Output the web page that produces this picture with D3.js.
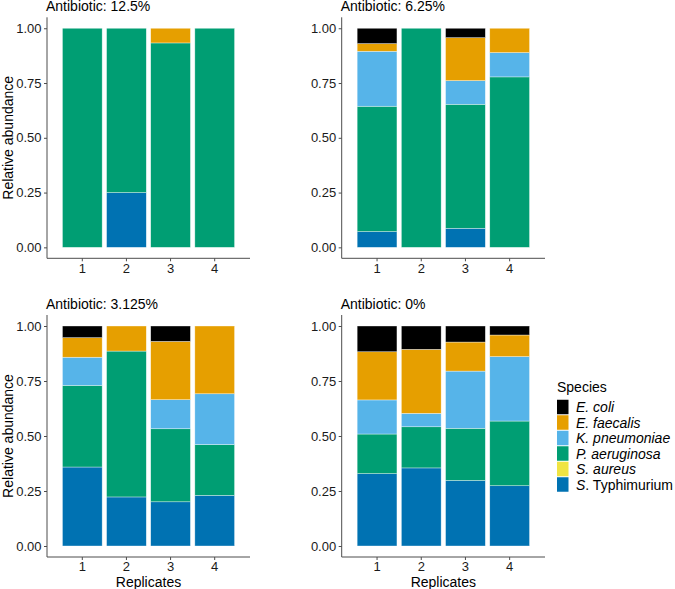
<!DOCTYPE html>
<html><head><meta charset="utf-8">
<script src="https://cdn.jsdelivr.net/npm/d3@7"></script>
<style>body{margin:0;background:#fff}svg{display:block}text{font-family:"Liberation Sans",Arial,sans-serif}</style>
</head><body>
<svg id="c" width="675" height="589"></svg>
<script>
const panels = ["Antibiotic: 12.5%", "Antibiotic: 6.25%", "Antibiotic: 3.125%", "Antibiotic: 0%"];
const replicates = ["1", "2", "3", "4"];
const species = ["E. coli", "E. faecalis", "K. pneumoniae", "P. aeruginosa", "S. aureus", "S. Typhimurium"];
const colors = ["#000000", "#E69F00", "#56B4E9", "#009E73", "#F0E442", "#0072B2"];
const yTicks = [0, 0.25, 0.5, 0.75, 1];
const yTickLabels = ["0.00", "0.25", "0.50", "0.75", "1.00"];
// values per panel, per replicate, in species order
const ab12_5 = [
  [0, 0, 0, 1.0, 0, 0],
  [0, 0, 0, 0.75, 0, 0.25],
  [0, 0.067, 0, 0.933, 0, 0],
  [0, 0, 0, 1.0, 0, 0]
];
const ab6_25 = [
  [0.070, 0.035, 0.251, 0.572, 0, 0.072],
  [0, 0, 0, 1.0, 0, 0],
  [0.043, 0.196, 0.108, 0.566, 0, 0.087],
  [0, 0.111, 0.111, 0.778, 0, 0]
];
const ab3_125 = [
  [0.053, 0.089, 0.128, 0.371, 0, 0.359],
  [0, 0.114, 0, 0.663, 0, 0.223],
  [0.070, 0.265, 0.132, 0.332, 0, 0.201],
  [0, 0.308, 0.231, 0.231, 0, 0.230]
];
const ab0 = [
  [0.117, 0.219, 0.155, 0.180, 0, 0.329],
  [0.106, 0.291, 0.061, 0.187, 0, 0.355],
  [0.073, 0.132, 0.260, 0.237, 0, 0.298],
  [0.041, 0.098, 0.293, 0.294, 0, 0.274]
];
const panelData = [ab12_5, ab6_25, ab3_125, ab0];

const svg = d3.select("#c");
const color = d3.scaleOrdinal().domain(species).range(colors);
const boxes = [
  {x0: 47, x1: 250, y0: 17.3, y1: 258.3, xlab: false},
  {x0: 341.7, x1: 545, y0: 17.3, y1: 258.3, xlab: false},
  {x0: 47, x1: 250, y0: 315, y1: 557, xlab: true},
  {x0: 341.7, x1: 545, y0: 315, y1: 557, xlab: true}
];
const axisCol = "#4d4d4d";

panels.forEach((title, pi) => {
  const b = boxes[pi];
  const x = d3.scaleBand().domain(replicates).range([b.x0, b.x1]).paddingInner(0.1).paddingOuter(0.35);
  const y = d3.scaleLinear().domain([-0.05, 1.05]).range([b.y1, b.y0]);
  const g = svg.append("g");
  const rows = panelData[pi].map((vals, ri) => {
    const o = {rep: replicates[ri]};
    species.forEach((s, si) => o[s] = vals[si]);
    return o;
  });
  const stack = d3.stack().keys(species.slice().reverse());
  const series = stack(rows);
  series.forEach(ser => {
    g.append("g").selectAll("rect").data(ser.filter(d => d[1] - d[0] > 0)).join("rect")
      .attr("x", d => x(d.data.rep))
      .attr("width", x.bandwidth())
      .attr("y", d => y(d[1]))
      .attr("height", d => y(d[0]) - y(d[1]))
      .attr("fill", color(ser.key))
      .attr("stroke", "#ffffff").attr("stroke-opacity", 0.6).attr("stroke-width", 0.6);
  });
  // y axis
  const ya = g.append("g").attr("transform", `translate(${b.x0},0)`)
    .call(d3.axisLeft(y).tickValues(yTicks).tickFormat((d, i) => yTickLabels[i]).tickSizeOuter(0).tickSize(3).tickPadding(2.5));
  ya.select(".domain").attr("stroke", axisCol).attr("d", `M0,${b.y0}V${b.y1}`);
  ya.selectAll(".tick line").attr("stroke", axisCol);
  ya.selectAll(".tick text").attr("fill", "#1a1a1a").style("font-size", "13px");
  // x axis
  const xa = g.append("g").attr("transform", `translate(0,${b.y1})`)
    .call(d3.axisBottom(x).tickSizeOuter(0).tickSize(3).tickPadding(2));
  xa.select(".domain").attr("stroke", axisCol).attr("d", `M${b.x0},0H${b.x1}`);
  xa.selectAll(".tick line").attr("stroke", axisCol);
  xa.selectAll(".tick text").attr("fill", "#1a1a1a").style("font-size", "13px");
  ya.attr("font-family", null); xa.attr("font-family", null);
  // title
  g.append("text").attr("x", b.x0 - 1).attr("y", b.y0 - 6.5).text(title)
    .style("font-size", "14px").attr("fill", "#000");
  if (pi % 2 === 0) {
    g.append("text").attr("transform", `translate(13,${(y(0) + y(1)) / 2}) rotate(-90)`)
      .attr("text-anchor", "middle").text("Relative abundance").style("font-size", "14px");
  }
  if (b.xlab) {
    g.append("text").attr("x", (b.x0 + b.x1) / 2).attr("y", 586.5).attr("text-anchor", "middle")
      .text("Replicates").style("font-size", "14px");
  }
});

// legend
const lg = svg.append("g").attr("transform", "translate(557,0)");
lg.append("text").attr("x", 0).attr("y", 392).text("Species").style("font-size", "14px");
species.forEach((s, i) => {
  const cy = 407 + i * 15.5;
  lg.append("rect").attr("x", 0).attr("y", cy - 7.25).attr("width", 11.5).attr("height", 14.5)
    .attr("fill", colors[i]);
  const t = lg.append("text").attr("x", 19).attr("y", cy + 5).style("font-size", "14px");
  if (s === "S. Typhimurium") {
    t.append("tspan").attr("font-style", "italic").text("S");
    t.append("tspan").text(". Typhimurium");
  } else {
    t.append("tspan").attr("font-style", "italic").text(s);
  }
});
</script>
</body></html>
